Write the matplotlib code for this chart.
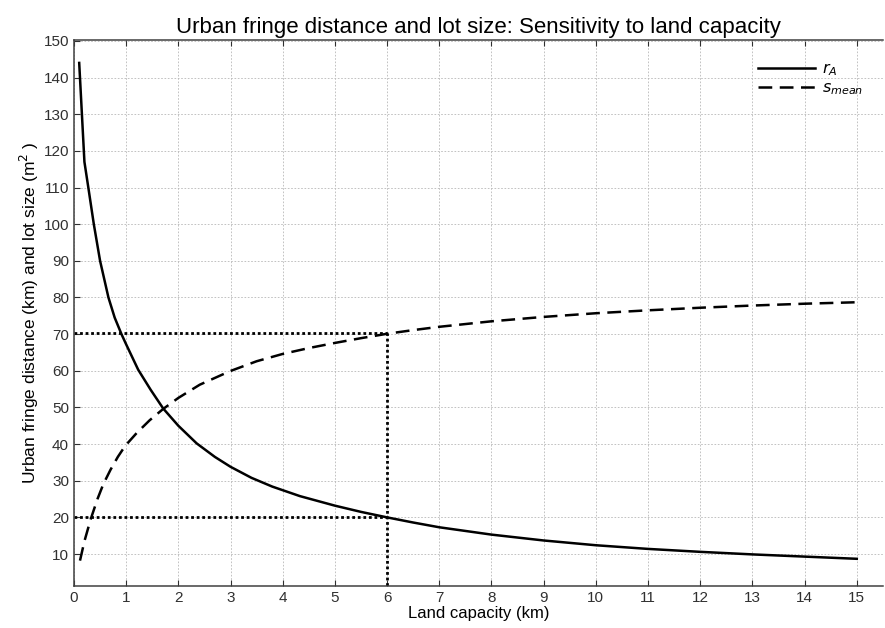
import numpy as np
import matplotlib
matplotlib.use("Agg")
import matplotlib.pyplot as plt

plt.rcParams["font.family"] = ["Liberation Sans", "DejaVu Sans"]

# values
x_r = [0.1, 0.2, 0.28, 0.38, 0.5, 0.66, 0.78, 0.91, 1.0, 1.23, 1.47, 1.71, 2.0,
       2.35, 2.7, 3.0, 3.4, 3.8, 4.33, 5.0, 5.5, 6.0, 6.5, 7.0, 8.0, 9.0, 10.0,
       11.0, 12.0, 13.0, 14.0, 15.0]
r_A = [144, 117, 109.5, 100, 90, 80, 74.5, 70, 67.2, 60.3, 54.8, 49.7, 45,
       40.2, 36.5, 33.8, 30.8, 28.4, 25.8, 23.2, 21.5, 20, 18.6, 17.3, 15.3, 13.7, 12.4,
       11.4, 10.6, 9.9, 9.3, 8.7]

x_s = [0.115, 0.2, 0.32, 0.45, 0.56, 0.7, 0.84, 0.98, 1.2, 1.45, 1.71, 2.0, 2.41,
       2.99, 3.5, 4.0, 4.5, 5.0, 5.5, 6.0, 6.5, 7.0, 8.0, 9.0, 10.0, 11.0, 12.0,
       13.0, 14.0, 15.0]
s_mean = [8.2, 13.5, 19.5, 25, 29, 33, 36.5, 39.5, 43, 46.5, 49.6, 52.6, 56.2,
          59.9, 62.6, 64.6, 66.2, 67.6, 68.9, 70.1, 71.1, 72.0, 73.5, 74.7, 75.7, 76.5, 77.2,
          77.8, 78.3, 78.7]

# marked point
x_mark = 6
r_mark = 20
s_mark = 70.2

xticks = list(range(0, 16))
yticks = list(range(10, 160, 10))


def main():
    fig = plt.figure(figsize=(8.85, 6.28), dpi=100)
    ax = fig.add_axes([0.0836, 0.067, 0.914, 0.869])

    ax.plot(x_r, r_A, color="black", linewidth=1.8, label="$r_A$")
    ax.plot(x_s, s_mean, color="black", linewidth=1.8, linestyle=(0, (5.5, 3)),
            label="$s_{mean}$")

    # reference lines at land capacity = 6
    dot = dict(color="black", linewidth=2, linestyle=(0, (1, 1)))
    ax.plot([0, x_mark], [r_mark, r_mark], **dot)
    ax.plot([0, x_mark], [s_mark, s_mark], **dot)
    ax.plot([x_mark, x_mark], [0, s_mark], **dot)

    ax.set_xlim(0, 15.5)
    ax.set_ylim(1.3, 150.2)
    ax.set_xticks(xticks)
    ax.set_yticks(yticks)
    ax.grid(True, color="#b8b8b8", linestyle=(0, (2, 2)), linewidth=0.6)
    ax.tick_params(direction="in", top=True, length=4, labelsize=11, colors="#303030")
    for side in ["left", "bottom", "top"]:
        ax.spines[side].set_linewidth(1.1)
        ax.spines[side].set_color("#404040")
    ax.spines["right"].set_visible(False)

    ax.set_title("Urban fringe distance and lot size: Sensitivity to land capacity",
                 fontsize=16, pad=5)
    ax.set_xlabel("Land capacity (km)", fontsize=12, labelpad=1)
    ax.set_ylabel("Urban fringe distance (km) and lot size (m$^2$ )", fontsize=12.5, labelpad=2)

    ax.legend(loc="upper right", frameon=False, handlelength=3.6, fontsize=11.5,
              borderaxespad=0.6, labelspacing=0.15, handletextpad=0.4,
              bbox_to_anchor=(0.995, 0.99))

    fig.savefig("out.png", dpi=100)


if __name__ == "__main__":
    main()
